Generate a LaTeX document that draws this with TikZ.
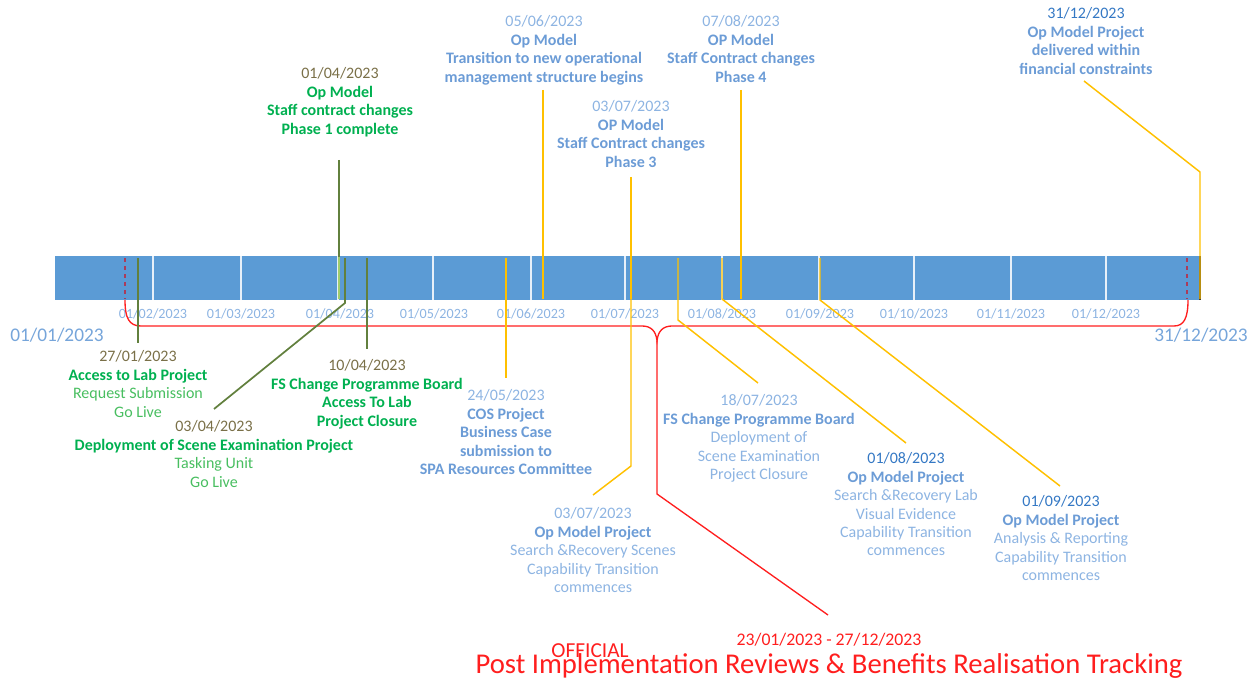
\documentclass[tikz,border=0pt]{standalone}
\usepackage{fontspec}
\setmainfont{Carlito}
\usepackage{xcolor}
\usepackage{tikz}
\definecolor{barblue}{RGB}{91,155,213}
\definecolor{paleblue}{RGB}{141,180,226}
\definecolor{midblue}{RGB}{108,156,214}
\definecolor{deepblue}{RGB}{52,120,196}
\definecolor{bigblue}{RGB}{118,165,218}
\definecolor{leaf}{RGB}{0,176,80}
\definecolor{lightleaf}{RGB}{72,190,96}
\definecolor{olive}{RGB}{122,112,72}
\definecolor{moss}{RGB}{98,128,62}
\definecolor{springgreen}{RGB}{160,205,110}
\definecolor{amber}{RGB}{255,192,0}
\definecolor{plum}{RGB}{170,60,90}
\definecolor{alarm}{RGB}{255,30,30}

\begin{document}
\begin{tikzpicture}[x=0.75pt,y=-0.75pt,
  lbl/.style={align=center,anchor=north,inner sep=0pt,font=\fontsize{12}{13.6}\selectfont},
  greenlbl/.style={lbl,text=lightleaf},
  bluelbl/.style={lbl,text=paleblue},
  tick/.style={text=paleblue,inner sep=0pt,font=\fontsize{10.6}{12}\selectfont},
  enddate/.style={text=bigblue,inner sep=0pt,font=\fontsize{14.5}{17}\selectfont},
  redtext/.style={text=alarm,inner sep=0pt},
  mossline/.style={draw=moss,line width=1.3pt},
  amberline/.style={draw=amber,line width=1.1pt},
  redline/.style={draw=alarm,line width=1pt},
  bounds/.style={draw=plum,dashed,line width=1.3pt}]
\useasboundingbox (0,0) rectangle (1257,681);

% timeline bar
\fill[barblue] (55,256) rectangle (1200,300);
\foreach \x in {153,241,338,433,531,625,722,819,914,1011,1106}
  \draw[white!85!barblue,line width=1pt] (\x,256) -- (\x,300);
\draw[black!80,line width=1pt] (1200,256) -- (1200,300);
\foreach \x/\m in {153/02,241/03,340/04,434/05,531/06,625/07,722/08,820/09,914/10,1011/11,1106/12}
  \node[tick] (m\m) at (\x,314) {01/\m/2023};
\node[enddate] (start) at (57,335) {01/01/2023};
\node[enddate] (finish) at (1201,335) {31/12/2023};

% review period
\coordinate (from) at (125,258);
\coordinate (until) at (1187,258);
\coordinate (tip) at (657,341);
\coordinate (kink) at (657,494);
\coordinate (spanend) at (828,615);
\draw[bounds] (from) -- ++(0,41);
\draw[bounds] (until) -- ++(0,41);
\draw[redline] (125,300) .. controls (125,318) and (129,326) .. (141,326) -- (642,326)
  .. controls (651,326) and (656,331) .. (tip)
  .. controls (658,331) and (663,326) .. (672,326) -- (1174,326)
  .. controls (1184,326) and (1188,318) .. (1188,300);
\draw[redline] (tip) -- (kink) -- (spanend);
\node[redtext,font=\fontsize{13.3}{15}\selectfont] (span) at (829,640) {23/01/2023 - 27/12/2023};
\node[redtext,font=\fontsize{16}{18}\selectfont] (official) at (590,651) {OFFICIAL};
\node[redtext,font=\fontsize{21.5}{24}\selectfont] (pir) at (829,666) {Post Implementation Reviews \& Benefits Realisation Tracking};

% green milestones
\coordinate (a2701) at (138,258);  \coordinate (z2701) at (138,343);
\coordinate (a0104) at (339,160);  \coordinate (z0104) at (339,257);
\coordinate (a0304) at (345,258);  \coordinate (k0304) at (345,303);  \coordinate (z0304) at (214,409);
\coordinate (a1004) at (367,258);  \coordinate (z1004) at (367,349);
\draw[mossline] (a2701) -- (z2701);
\draw[mossline] (a0104) -- (z0104);
\draw[draw=springgreen,line width=1.3pt] (z0104) -- ++(0,42);
\draw[mossline] (a0304) -- (k0304) -- (z0304);
\draw[mossline] (a1004) -- (z1004);

\node[greenlbl] (g2701) at (138,350) {\textcolor{olive}{27/01/2023}\\[1pt]
  \textbf{\textcolor{leaf}{Access to Lab Project}}\\Request Submission\\Go Live};
\node[greenlbl] (g0104) at (340,67) {\textcolor{olive}{01/04/2023}\\[1pt]
  \textbf{\textcolor{leaf}{Op Model}}\\\textbf{\textcolor{leaf}{Staff contract changes}}\\\textbf{\textcolor{leaf}{Phase 1 complete}}};
\node[greenlbl] (g0304) at (214,420) {\textcolor{olive}{03/04/2023}\\[1pt]
  \textbf{\textcolor{leaf}{Deployment of Scene Examination Project}}\\Tasking Unit\\Go Live};
\node[greenlbl] (g1004) at (367,359) {\textcolor{olive}{10/04/2023}\\[1pt]
  \textbf{\textcolor{leaf}{FS Change Programme Board}}\\\textbf{\textcolor{leaf}{Access To Lab}}\\\textbf{\textcolor{leaf}{Project Closure}}};

% yellow milestones
\coordinate (a2405) at (506,258);  \coordinate (z2405) at (506,378);
\coordinate (a0506) at (543,90);   \coordinate (z0506) at (543,299);
\coordinate (a0307) at (631,177);  \coordinate (z0307) at (631,299);
\coordinate (b0307) at (631,258);  \coordinate (k0307) at (631,466);  \coordinate (y0307) at (593,495);
\coordinate (a1807) at (678,258);  \coordinate (k1807) at (678,320);  \coordinate (z1807) at (758,383);
\coordinate (a0108) at (722,258);  \coordinate (k0108) at (722,299);  \coordinate (z0108) at (906,443);
\coordinate (a0708) at (741,90);   \coordinate (z0708) at (741,299);
\coordinate (a0109) at (820,258);  \coordinate (k0109) at (820,300);  \coordinate (z0109) at (1060,486);
\coordinate (a3112) at (1200,299); \coordinate (k3112) at (1200,172); \coordinate (z3112) at (1084,81);
\draw[amberline] (a2405) -- (z2405);
\draw[amberline] (a0506) -- (z0506);
\draw[amberline] (a0307) -- (z0307);
\draw[amberline] (b0307) -- (k0307) -- (y0307);
\draw[amberline] (a1807) -- (k1807) -- (z1807);
\draw[amberline] (a0108) -- (k0108) -- (z0108);
\draw[amberline] (a0708) -- (z0708);
\draw[amberline] (a0109) -- (k0109) -- (z0109);
\draw[amberline] (a3112) -- (k3112) -- (z3112);

\node[bluelbl] (c2405) at (506,389) {24/05/2023\\[1pt]
  \textbf{\textcolor{midblue}{COS Project}}\\\textbf{\textcolor{midblue}{Business Case}}\\\textbf{\textcolor{midblue}{submission to}}\\\textbf{\textcolor{midblue}{SPA Resources Committee}}};
\node[bluelbl] (t0506) at (544,15) {05/06/2023\\[1pt]
  \textbf{\textcolor{midblue}{Op Model}}\\\textbf{\textcolor{midblue}{Transition to new operational}}\\\textbf{\textcolor{midblue}{management structure begins}}};
\node[bluelbl] (t0307) at (631,100) {03/07/2023\\[1pt]
  \textbf{\textcolor{midblue}{OP Model}}\\\textbf{\textcolor{midblue}{Staff Contract changes}}\\\textbf{\textcolor{midblue}{Phase 3}}};
\node[bluelbl] (s0307) at (593,507) {03/07/2023\\[1pt]
  \textbf{\textcolor{midblue}{Op Model Project}}\\Search \&Recovery Scenes\\Capability Transition\\commences};
\node[bluelbl] (f1807) at (759,394) {18/07/2023\\[1pt]
  \textbf{\textcolor{midblue}{FS Change Programme Board}}\\Deployment of\\Scene Examination\\Project Closure};
\node[bluelbl] (s0108) at (906,452) {\textcolor{deepblue}{01/08/2023}\\[1pt]
  \textbf{\textcolor{midblue}{Op Model Project}}\\Search \&Recovery Lab\\Visual Evidence\\Capability Transition\\commences};
\node[bluelbl] (t0708) at (741,15) {07/08/2023\\[1pt]
  \textbf{\textcolor{midblue}{OP Model}}\\\textbf{\textcolor{midblue}{Staff Contract changes}}\\\textbf{\textcolor{midblue}{Phase 4}}};
\node[bluelbl] (s0109) at (1061,495) {\textcolor{deepblue}{01/09/2023}\\[1pt]
  \textbf{\textcolor{midblue}{Op Model Project}}\\Analysis \& Reporting\\Capability Transition\\commences};
\node[bluelbl] (d3112) at (1086,7) {\textcolor{deepblue}{31/12/2023}\\[1pt]
  \textbf{\textcolor{midblue}{Op Model Project}}\\\textbf{\textcolor{midblue}{delivered within}}\\\textbf{\textcolor{midblue}{financial constraints}}};
\end{tikzpicture}
\end{document}
